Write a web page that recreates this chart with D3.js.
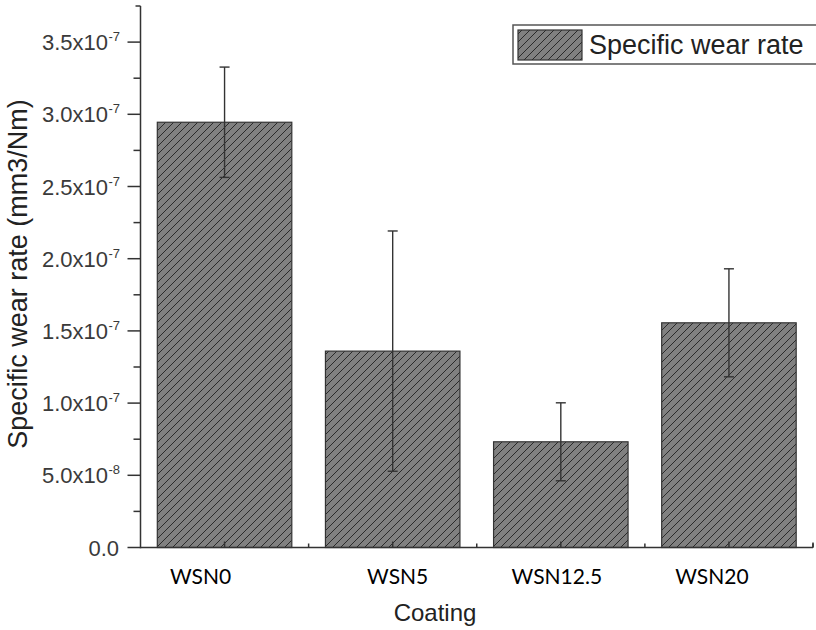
<!DOCTYPE html>
<html>
<head>
<meta charset="utf-8">
<script src="https://cdn.jsdelivr.net/npm/d3@7/dist/d3.min.js"></script>
<style>
  body { margin: 0; background: #fff; }
  svg { display: block; }
</style>
</head>
<body>
<svg id="chart" width="816" height="630"></svg>
<script>
// datos
const categories = ["WSN0", "WSN5", "WSN12.5", "WSN20"];
const wearRate = [2.945e-7, 1.36e-7, 0.732e-7, 1.556e-7];
const wearError = [0.382e-7, 0.832e-7, 0.27e-7, 0.374e-7];
const yTicks = [0, 0.5e-7, 1.0e-7, 1.5e-7, 2.0e-7, 2.5e-7, 3.0e-7, 3.5e-7];
const yMinorTicks = [0.25e-7, 0.75e-7, 1.25e-7, 1.75e-7, 2.25e-7, 2.75e-7, 3.25e-7];
const labelOffsets = [-24, 5, -4, -17]; // etiquetas del eje x colocadas a mano en el original

const svg = d3.select("#chart");

const x = d3.scaleLinear().domain([-0.5, 3.5]).range([140.5, 813]);
const y = d3.scaleLinear().domain([0, 3.75e-7]).range([547.5, 6]);
const barW = (x(1) - x(0)) * 0.8;

// patrón de rayas
const defs = svg.append("defs");
const pat = defs.append("pattern")
    .attr("id", "hatch")
    .attr("patternUnits", "userSpaceOnUse")
    .attr("width", 8)
    .attr("height", 8);
pat.append("rect").attr("width", 8).attr("height", 8).attr("fill", "#808080");
pat.append("path")
    .attr("d", "M-2,2 L2,-2 M0,8 L8,0 M6,10 L10,6")
    .attr("stroke", "#2a2a2a")
    .attr("stroke-width", 1);

// barras
svg.append("g").selectAll("rect")
    .data(wearRate)
    .join("rect")
    .attr("x", (d, i) => x(i) - barW / 2)
    .attr("y", d => y(d))
    .attr("width", barW)
    .attr("height", d => y(0) - y(d))
    .attr("fill", "url(#hatch)")
    .attr("stroke", "#333")
    .attr("stroke-width", 1.2);

// barras de error
const err = svg.append("g").attr("stroke", "#333").attr("stroke-width", 1.4);
wearRate.forEach((v, i) => {
    const cx = x(i);
    const top = y(v + wearError[i]);
    const bot = y(v - wearError[i]);
    err.append("line").attr("x1", cx).attr("x2", cx).attr("y1", top).attr("y2", bot);
    err.append("line").attr("x1", cx - 5).attr("x2", cx + 5).attr("y1", top).attr("y2", top);
    err.append("line").attr("x1", cx - 5).attr("x2", cx + 5).attr("y1", bot).attr("y2", bot);
});

// eje y
const axisColor = "#333";
const yAxis = svg.append("g").attr("stroke", axisColor).attr("stroke-width", 1.5);
yAxis.append("line").attr("x1", x(-0.5)).attr("x2", x(-0.5)).attr("y1", y(3.75e-7)).attr("y2", y(0) + 0.75);
yAxis.append("line").attr("x1", x(-0.5) - 5).attr("x2", x(-0.5)).attr("y1", y(3.75e-7)).attr("y2", y(3.75e-7));
yAxis.selectAll(".maj").data(yTicks).join("line")
    .attr("x1", x(-0.5) - 13).attr("x2", x(-0.5))
    .attr("y1", d => y(d)).attr("y2", d => y(d));
yAxis.selectAll(".min").data(yMinorTicks).join("line")
    .attr("x1", x(-0.5) - 7).attr("x2", x(-0.5))
    .attr("y1", d => y(d)).attr("y2", d => y(d));

// etiquetas del eje y con exponente
const yLab = svg.append("g")
    .attr("font-family", "'Liberation Sans', Arial, sans-serif")
    .attr("fill", "#3a3a3a");
yTicks.forEach(v => {
    if (v === 0) {
        yLab.append("text")
            .attr("x", 119).attr("y", y(v) + 8)
            .attr("text-anchor", "end").attr("font-size", 22)
            .text("0.0");
        return;
    }
    const exp = Math.floor(Math.log10(v) + 1e-9);
    const man = v / Math.pow(10, exp);
    yLab.append("text")
        .attr("x", 108).attr("y", y(v) + 8)
        .attr("text-anchor", "end").attr("font-size", 22)
        .text(man.toFixed(1) + "x10");
    yLab.append("text")
        .attr("x", 108.5).attr("y", y(v) - 1)
        .attr("font-size", 13)
        .text(exp);
});

// eje x
const xAxis = svg.append("g").attr("stroke", axisColor).attr("stroke-width", 1.5);
xAxis.append("line").attr("x1", x(-0.5)).attr("x2", x(3.5)).attr("y1", y(0)).attr("y2", y(0));
xAxis.selectAll(".maj").data(d3.range(0, 4)).join("line")
    .attr("x1", d => x(d)).attr("x2", d => x(d))
    .attr("y1", y(0)).attr("y2", y(0) - 6);
xAxis.selectAll(".min").data(d3.range(-0.5, 4, 1).slice(1)).join("line")
    .attr("x1", d => x(d)).attr("x2", d => x(d))
    .attr("y1", y(0)).attr("y2", y(0) - 4);
xAxis.append("line").attr("x1", x(3.5)).attr("x2", x(3.5)).attr("y1", y(0)).attr("y2", y(0) - 5);

svg.append("g").selectAll("text")
    .data(categories)
    .join("text")
    .attr("x", (d, i) => x(i) + labelOffsets[i])
    .attr("y", 584)
    .attr("text-anchor", "middle")
    .attr("font-family", "Lato, 'Open Sans', sans-serif")
    .attr("font-size", 21)
    .attr("fill", "#000")
    .text(d => d);

// títulos
svg.append("text")
    .attr("x", 435)
    .attr("y", 621)
    .attr("text-anchor", "middle")
    .attr("font-family", "'Liberation Sans', Arial, sans-serif")
    .attr("font-size", 24)
    .attr("fill", "#222")
    .text("Coating");

svg.append("text")
    .attr("transform", "translate(27,274) rotate(-90)")
    .attr("text-anchor", "middle")
    .attr("font-family", "'Liberation Sans', Arial, sans-serif")
    .attr("font-size", 27)
    .attr("fill", "#222")
    .text("Specific wear rate (mm3/Nm)");

// leyenda
const leg = svg.append("g");
leg.append("rect")
    .attr("x", 513).attr("y", 25).attr("width", 320).attr("height", 39)
    .attr("fill", "#fff").attr("stroke", "#555").attr("stroke-width", 1.5);
leg.append("rect")
    .attr("x", 518).attr("y", 30).attr("width", 64).attr("height", 30)
    .attr("fill", "url(#hatch)").attr("stroke", "#333").attr("stroke-width", 1.2);
leg.append("text")
    .attr("x", 589).attr("y", 54)
    .attr("font-family", "'Liberation Sans', Arial, sans-serif")
    .attr("font-size", 27)
    .attr("fill", "#222")
    .text("Specific wear rate");
</script>
</body>
</html>
